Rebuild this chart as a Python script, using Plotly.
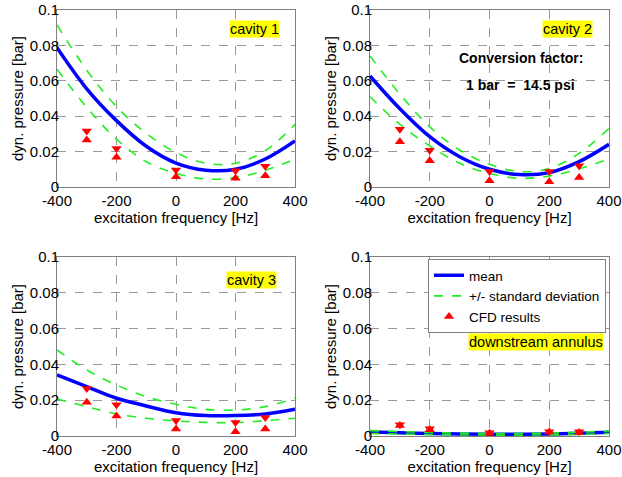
import plotly.graph_objects as go

freq = [-400, -300, -200, -100, 0, 100, 200, 300, 400]
cfd_freq = [-300, -200, 0, 200, 300]

# cavity 1
c1_mean = [0.0787, 0.0555, 0.0375, 0.0230, 0.0135, 0.0095, 0.0100, 0.0158, 0.0260]
c1_up = [0.0915, 0.0660, 0.0454, 0.0303, 0.0195, 0.0134, 0.0134, 0.0205, 0.0354]
c1_lo = [0.0665, 0.0450, 0.0270, 0.0143, 0.0077, 0.0045, 0.0053, 0.0094, 0.0158]
c1_cfd_max = [0.0316, 0.0218, 0.0096, 0.0092, 0.0117]
c1_cfd_min = [0.0266, 0.0168, 0.0058, 0.0049, 0.0064]

# cavity 2
c2_mean = [0.0627, 0.0442, 0.0284, 0.0171, 0.0100, 0.0070, 0.0081, 0.0143, 0.0241]
c2_up = [0.0740, 0.0525, 0.0340, 0.0209, 0.0128, 0.0087, 0.0105, 0.0190, 0.0331]
c2_lo = [0.0510, 0.0354, 0.0232, 0.0134, 0.0077, 0.0049, 0.0062, 0.0102, 0.0158]
c2_cfd_max = [0.0326, 0.0207, 0.0087, 0.0087, 0.0120]
c2_cfd_min = [0.0256, 0.0149, 0.0036, 0.0030, 0.0053]

# cavity 3
c3_mean = [0.0341, 0.0276, 0.0211, 0.0168, 0.0130, 0.0114, 0.0114, 0.0123, 0.0149]
c3_up = [0.0481, 0.0369, 0.0285, 0.0220, 0.0177, 0.0149, 0.0145, 0.0164, 0.0211]
c3_lo = [0.0207, 0.0164, 0.0123, 0.0099, 0.0084, 0.0076, 0.0075, 0.0086, 0.0099]
c3_cfd_max = [0.0265, 0.0175, 0.0086, 0.0075, 0.0103]
c3_cfd_min = [0.0188, 0.0112, 0.0039, 0.0024, 0.0039]

# downstream annulus
da_mean = [0.0022, 0.0018, 0.0014, 0.0011, 0.0010, 0.0010, 0.0011, 0.0015, 0.0021]
da_up = [0.0030, 0.0025, 0.0020, 0.0016, 0.0014, 0.0014, 0.0016, 0.0021, 0.0028]
da_lo = [0.0014, 0.0011, 0.0008, 0.0006, 0.0005, 0.0005, 0.0006, 0.0009, 0.0014]
da_cfd_max = [0.0063, 0.0040, 0.0018, 0.0024, 0.0024]
da_cfd_min = [0.0058, 0.0035, 0.0015, 0.0022, 0.0020]

panels = [
    ("cavity 1", c1_mean, c1_up, c1_lo, c1_cfd_max, c1_cfd_min),
    ("cavity 2", c2_mean, c2_up, c2_lo, c2_cfd_max, c2_cfd_min),
    ("cavity 3", c3_mean, c3_up, c3_lo, c3_cfd_max, c3_cfd_min),
    ("downstream annulus", da_mean, da_up, da_lo, da_cfd_max, da_cfd_min),
]

x_ticks = [-400, -200, 0, 200, 400]
x_ticklabels = ["-400", "-200", "0", "200", "400"]
y_ticks = [0, 0.02, 0.04, 0.06, 0.08, 0.1]
y_ticklabels = ["0", "0.02", "0.04", "0.06", "0.08", "0.1"]

W, H = 622, 477
# pixel boxes of axes: (left, right, top, bottom)
boxes = [(57, 295, 10, 187), (370, 609, 10, 187), (57, 295, 257, 436), (370, 609, 257, 436)]

BLUE = "#0000ff"
GREEN = "#22ee22"
RED = "#ff0000"
FONT = "Liberation Sans, Arial, sans-serif"

fig = go.Figure()
for i, (name, mean, up, lo, cmax, cmin) in enumerate(panels):
    sfx = "" if i == 0 else str(i + 1)
    xa, ya = "x" + sfx, "y" + sfx
    first = (i == 0)
    fig.add_trace(go.Scatter(x=freq, y=mean, mode="lines", line=dict(color=BLUE, width=3.5, shape="spline"),
                             name="mean", showlegend=first, xaxis=xa, yaxis=ya))
    fig.add_trace(go.Scatter(x=freq, y=up, mode="lines", line=dict(color=GREEN, width=1.6, dash="dash", shape="spline"),
                             name="+/- standard deviation", showlegend=first, xaxis=xa, yaxis=ya))
    fig.add_trace(go.Scatter(x=freq, y=lo, mode="lines", line=dict(color=GREEN, width=1.6, dash="dash", shape="spline"),
                             name="+/- standard deviation", showlegend=False, xaxis=xa, yaxis=ya))
    fig.add_trace(go.Scatter(x=cfd_freq, y=cmax, mode="markers",
                             marker=dict(symbol="triangle-down", color=RED, size=9),
                             name="CFD results", showlegend=False, xaxis=xa, yaxis=ya))
    fig.add_trace(go.Scatter(x=cfd_freq, y=cmin, mode="markers",
                             marker=dict(symbol="triangle-up", color=RED, size=9),
                             name="CFD results", showlegend=first, xaxis=xa, yaxis=ya))

    l, r, t, b = boxes[i]
    axis_common = dict(showline=True, linecolor="#808080", linewidth=1, mirror=True,
                       showgrid=True, gridcolor="#9a9a9a", griddash="dash", gridwidth=1,
                       zeroline=False, ticks="", automargin=False,
                       tickfont=dict(family=FONT, size=15, color="#000"))
    fig.layout["xaxis" + sfx] = dict(axis_common, domain=[l / W, r / W], range=[-400, 400],
                                     tickvals=x_ticks, ticktext=x_ticklabels, anchor=ya,
                                     title=dict(text="excitation frequency [Hz]", standoff=0,
                                                font=dict(family=FONT, size=15, color="#000")))
    fig.layout["yaxis" + sfx] = dict(axis_common, domain=[1 - b / H, 1 - t / H], range=[0, 0.1],
                                     tickvals=y_ticks, ticktext=y_ticklabels, anchor=xa,
                                     ticklabelstandoff=-6,
                                     title=dict(text="dyn. pressure [bar]", standoff=2,
                                                font=dict(family=FONT, size=15, color="#000")))

label_pos = [(265, 0.089), (261, 0.089), (254, 0.0874), (154, 0.0525)]
for i, (name, *_rest) in enumerate(panels):
    sfx = "" if i == 0 else str(i + 1)
    fig.add_annotation(x=label_pos[i][0], y=label_pos[i][1], xref="x" + sfx, yref="y" + sfx,
                       text=name, showarrow=False, bgcolor="#ffff00", borderpad=0,
                       font=dict(family=FONT, size=14.5, color="#000"))

fig.add_annotation(x=105, y=0.0729, xref="x2", yref="y2", text="<b>Conversion factor:</b>",
                   showarrow=False, font=dict(family=FONT, size=14, color="#000"))
fig.add_annotation(x=105, y=0.0576, xref="x2", yref="y2", text="<b>1 bar  =  14.5 psi</b>",
                   showarrow=False, font=dict(family=FONT, size=14, color="#000"))

fig.update_layout(
    width=W, height=H, margin=dict(l=0, r=0, t=0, b=0),
    paper_bgcolor="white", plot_bgcolor="white",
    legend=dict(x=606 / W, y=1 - 259 / H, xanchor="right", yanchor="top",
                bgcolor="white", bordercolor="#808080", borderwidth=1,
                font=dict(family=FONT, size=13.5, color="#000"), tracegroupgap=0,
                itemwidth=30),
    font=dict(family=FONT),
)

fig.write_html("out.html", config={"displayModeBar": False},
               post_script="document.body.style.margin='0';document.body.style.padding='0';")
